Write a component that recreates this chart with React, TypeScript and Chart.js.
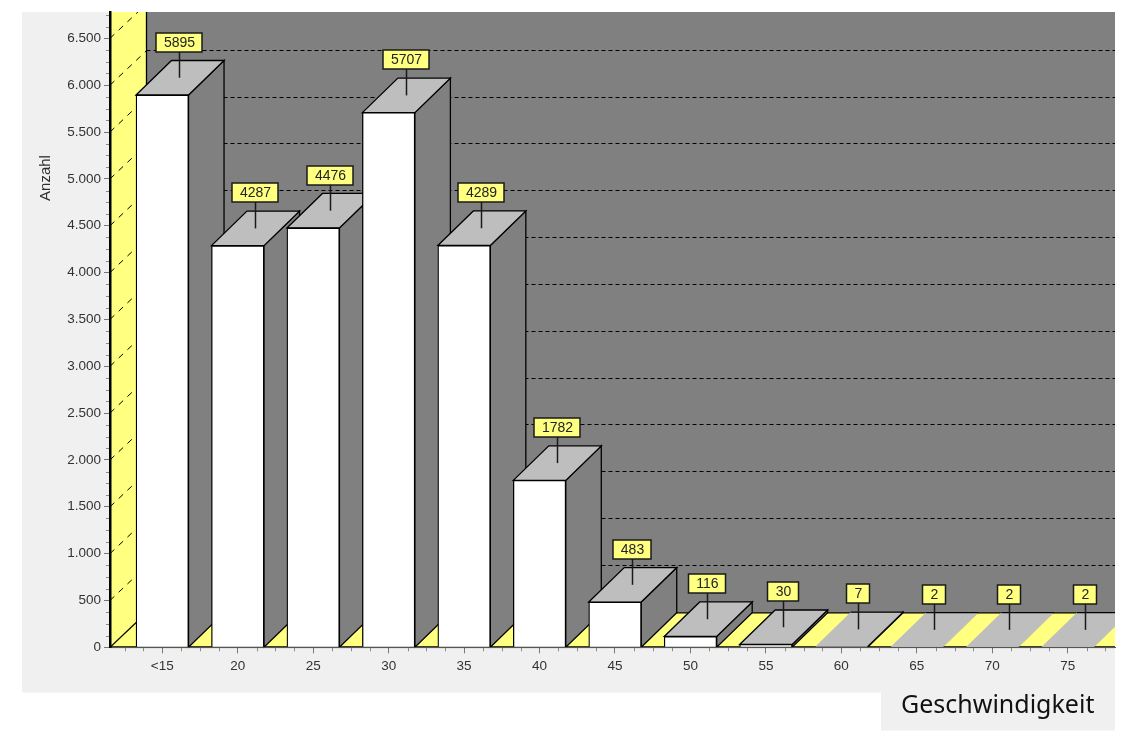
import React, { useEffect, useRef } from "react";
import { Chart, registerables } from "chart.js";

Chart.register(...registerables);

const categories = ["<15", "20", "25", "30", "35", "40", "45", "50", "55", "60", "65", "70", "75"];
const counts = [5895, 4287, 4476, 5707, 4289, 1782, 483, 116, 30, 7, 2, 2, 2];
const yTicks = [0, 500, 1000, 1500, 2000, 2500, 3000, 3500, 4000, 4500, 5000, 5500, 6000, 6500];

const YELLOW = "#ffff80";
const WALL = "#808080";
const TOP = "#bebebe";
const PANEL = "#f0f0f0";
const DX = 35.5;
const DY = 34.5;
const FONT = '"Liberation Sans", Arial, sans-serif';

const poly = (ctx: CanvasRenderingContext2D, pts: number[][], fill: string | null, stroke: string | null) => {
  ctx.beginPath();
  pts.forEach((p, i) => (i ? ctx.lineTo(p[0], p[1]) : ctx.moveTo(p[0], p[1])));
  ctx.closePath();
  if (fill) {
    ctx.fillStyle = fill;
    ctx.fill();
  }
  if (stroke) {
    ctx.strokeStyle = stroke;
    ctx.stroke();
  }
};

const line = (ctx: CanvasRenderingContext2D, x1: number, y1: number, x2: number, y2: number) => {
  ctx.beginPath();
  ctx.moveTo(x1, y1);
  ctx.lineTo(x2, y2);
  ctx.stroke();
};

const panelPlugin = {
  id: "panel",
  beforeDraw(chart: any) {
    const { ctx } = chart;
    ctx.save();
    ctx.fillStyle = "#ffffff";
    ctx.fillRect(0, 0, chart.width, chart.height);
    ctx.fillStyle = PANEL;
    ctx.fillRect(22, 12, 1093, 680.5);
    ctx.fillRect(881, 692, 234, 38.5);
    ctx.restore();
  },
};

const scenePlugin = {
  id: "scene",
  beforeDatasetsDraw(chart: any) {
    const { ctx, chartArea: a, scales } = chart;
    const { y } = scales;
    const y0 = y.getPixelForValue(0);
    const backX = a.left + DX + 1;
    const backY = y0 - DY;
    ctx.save();
    ctx.beginPath();
    ctx.rect(a.left, a.top, a.right - a.left, a.bottom - a.top + 1);
    ctx.clip();
    ctx.lineWidth = 1;

    // walls and floor
    ctx.fillStyle = YELLOW;
    ctx.fillRect(a.left, a.top, backX - a.left, y0 - a.top);
    ctx.fillRect(a.left, backY, a.right - a.left, y0 - backY);
    ctx.fillStyle = WALL;
    ctx.fillRect(backX, a.top, a.right - backX, backY - a.top);

    // grid lines on the walls
    ctx.strokeStyle = "#000";
    y.ticks.forEach((t: any) => {
      if (t.value === 0) return;
      const py = y.getPixelForValue(t.value);
      ctx.setLineDash([6, 6]);
      line(ctx, a.left, py, backX, py - DY);
      ctx.setLineDash([4, 3]);
      const gy = Math.round(py - DY) - 0.5;
      line(ctx, backX, gy, a.right, gy);
    });
    ctx.setLineDash([]);
    ctx.lineWidth = 1.3;
    line(ctx, backX, a.top, backX, backY);
    line(ctx, backX, backY, a.right, backY);
    line(ctx, a.left, y0, backX, backY);
    ctx.lineWidth = 2;
    line(ctx, a.left, y0, a.right, y0);
    ctx.lineWidth = 1.3;

    // extruded side and top of every bar, back to front
    const meta = chart.getDatasetMeta(0);
    meta.data.forEach((bar: any, i: number) => {
      const half = bar.width / 2;
      const l = bar.x - half;
      const r = bar.x + half;
      const t = bar.y;
      const outlined = counts[i] >= 5;
      poly(ctx, [[r, t], [r + DX, t - DY], [r + DX, y0 - DY], [r, y0]], WALL, outlined ? "#000" : null);
      if (counts[i] >= 10) {
        poly(ctx, [[l, t], [l + DX, t - DY], [r + DX, t - DY], [r, t]], TOP, "#000");
      } else {
        poly(ctx, [[l, t], [l + DX, t - DY], [r + DX, t - DY], [r, t]], TOP, null);
        ctx.strokeStyle = "#000";
        line(ctx, l + DX, t - DY, r + DX, t - DY);
        if (outlined) line(ctx, r + DX, t - DY, r, t);
      }
    });
    ctx.restore();
  },
  afterDatasetsDraw(chart: any) {
    const { ctx, scales } = chart;
    const { x, y } = scales;
    ctx.save();

    // minor ticks
    ctx.strokeStyle = "#8a8a8a";
    ctx.lineWidth = 1;
    const bottom = y.getPixelForValue(0);
    for (let k = -2; k <= 50; k++) {
      if (k % 4 === 0) continue;
      const px = x.getPixelForValue(k / 4);
      if (px <= chart.chartArea.left || px > chart.chartArea.right) continue;
      line(ctx, Math.round(px) + 0.5, bottom, Math.round(px) + 0.5, bottom + 4);
    }
    const step = yTicks[1] - yTicks[0];
    for (let v = step / 4; v < y.max; v += step / 4) {
      if (v % step === 0) continue;
      const py = Math.round(y.getPixelForValue(v)) + 0.5;
      line(ctx, chart.chartArea.left - 4, py, chart.chartArea.left, py);
    }

    // value callouts
    ctx.font = `14px ${FONT}`;
    ctx.textAlign = "center";
    ctx.textBaseline = "middle";
    chart.getDatasetMeta(0).data.forEach((bar: any, i: number) => {
      const cx = Math.round(bar.x + 17);
      const anchorY = bar.y - DY / 2;
      const boxBottom = Math.round(anchorY - 26);
      const text = String(counts[i]);
      const w = Math.round(ctx.measureText(text).width + 15);
      ctx.strokeStyle = "#1a1a1a";
      ctx.lineWidth = 1.5;
      line(ctx, cx + 0.5, anchorY, cx + 0.5, boxBottom);
      ctx.fillStyle = YELLOW;
      ctx.fillRect(cx - w / 2, boxBottom - 19, w, 19);
      ctx.strokeRect(cx - w / 2, boxBottom - 19, w, 19);
      ctx.fillStyle = "#222";
      ctx.fillText(text, cx + 0.5, boxBottom - 9);
    });

    // axis titles
    ctx.fillStyle = "#2f2f2f";
    ctx.font = `15px ${FONT}`;
    ctx.save();
    ctx.translate(46, 178);
    ctx.rotate(-Math.PI / 2);
    ctx.fillText("Anzahl", 0, 0);
    ctx.restore();
    ctx.fillStyle = "#111";
    ctx.font = '25px "Noto Sans", sans-serif';
    ctx.textAlign = "left";
    ctx.textBaseline = "alphabetic";
    ctx.fillText("Geschwindigkeit", 901, 713);
    ctx.restore();
  },
};

export default function App() {
  const ref = useRef<HTMLCanvasElement | null>(null);
  useEffect(() => {
    const chart = new Chart(ref.current as HTMLCanvasElement, {
      type: "bar",
      data: {
        datasets: [
          {
            data: counts.map((v, i) => ({ x: i, y: v })),
            backgroundColor: "#ffffff",
            borderColor: "#000000",
            borderWidth: 1.3,
            borderSkipped: "bottom",
            barThickness: 52.5,
          },
        ],
      },
      plugins: [panelPlugin, scenePlugin],
      options: {
        responsive: false,
        animation: false,
        devicePixelRatio: 1,
        layout: { padding: { left: 22, top: 12, right: 13, bottom: 43.7 } },
        plugins: { legend: { display: false }, tooltip: { enabled: false }, title: { display: false } },
        scales: {
          x: {
            type: "linear",
            offset: false,
            min: -0.693,
            max: 12.627,
            afterFit: (s: any) => {
              s.height = 45;
            },
            afterBuildTicks: (s: any) => {
              s.ticks = categories.map((_, i) => ({ value: i }));
            },
            grid: { offset: false, drawOnChartArea: false, drawTicks: true, tickLength: 6, tickColor: "#777" },
            border: { display: true, color: "#555", width: 1, z: 1 },
            ticks: {
              autoSkip: false,
              maxRotation: 0,
              padding: 5,
              color: "#333",
              font: { family: FONT, size: 13.5 },
              callback: (v: any) => categories[v] ?? "",
            },
          },
          y: {
            min: 0,
            max: 6781,
            afterFit: (s: any) => {
              s.width = 88;
            },
            afterBuildTicks: (s: any) => {
              s.ticks = yTicks.map((v) => ({ value: v }));
            },
            grid: { drawOnChartArea: false, drawTicks: true, tickLength: 6, tickColor: "#777" },
            border: { display: true, color: "#000", width: 2.5, z: 1 },
            ticks: {
              autoSkip: false,
              padding: 3,
              color: "#333",
              font: { family: FONT, size: 13.5 },
              callback: (v: any) => String(v).replace(/\B(?=(\d{3})+$)/g, "."),
            },
          },
        },
      },
    } as any);
    return () => chart.destroy();
  }, []);
  return (
    <div style={{ position: "absolute", left: 0, top: 0, width: 1128, height: 736, background: "#fff" }}>
      <canvas ref={ref} width={1128} height={736} style={{ display: "block" }} />
    </div>
  );
}
